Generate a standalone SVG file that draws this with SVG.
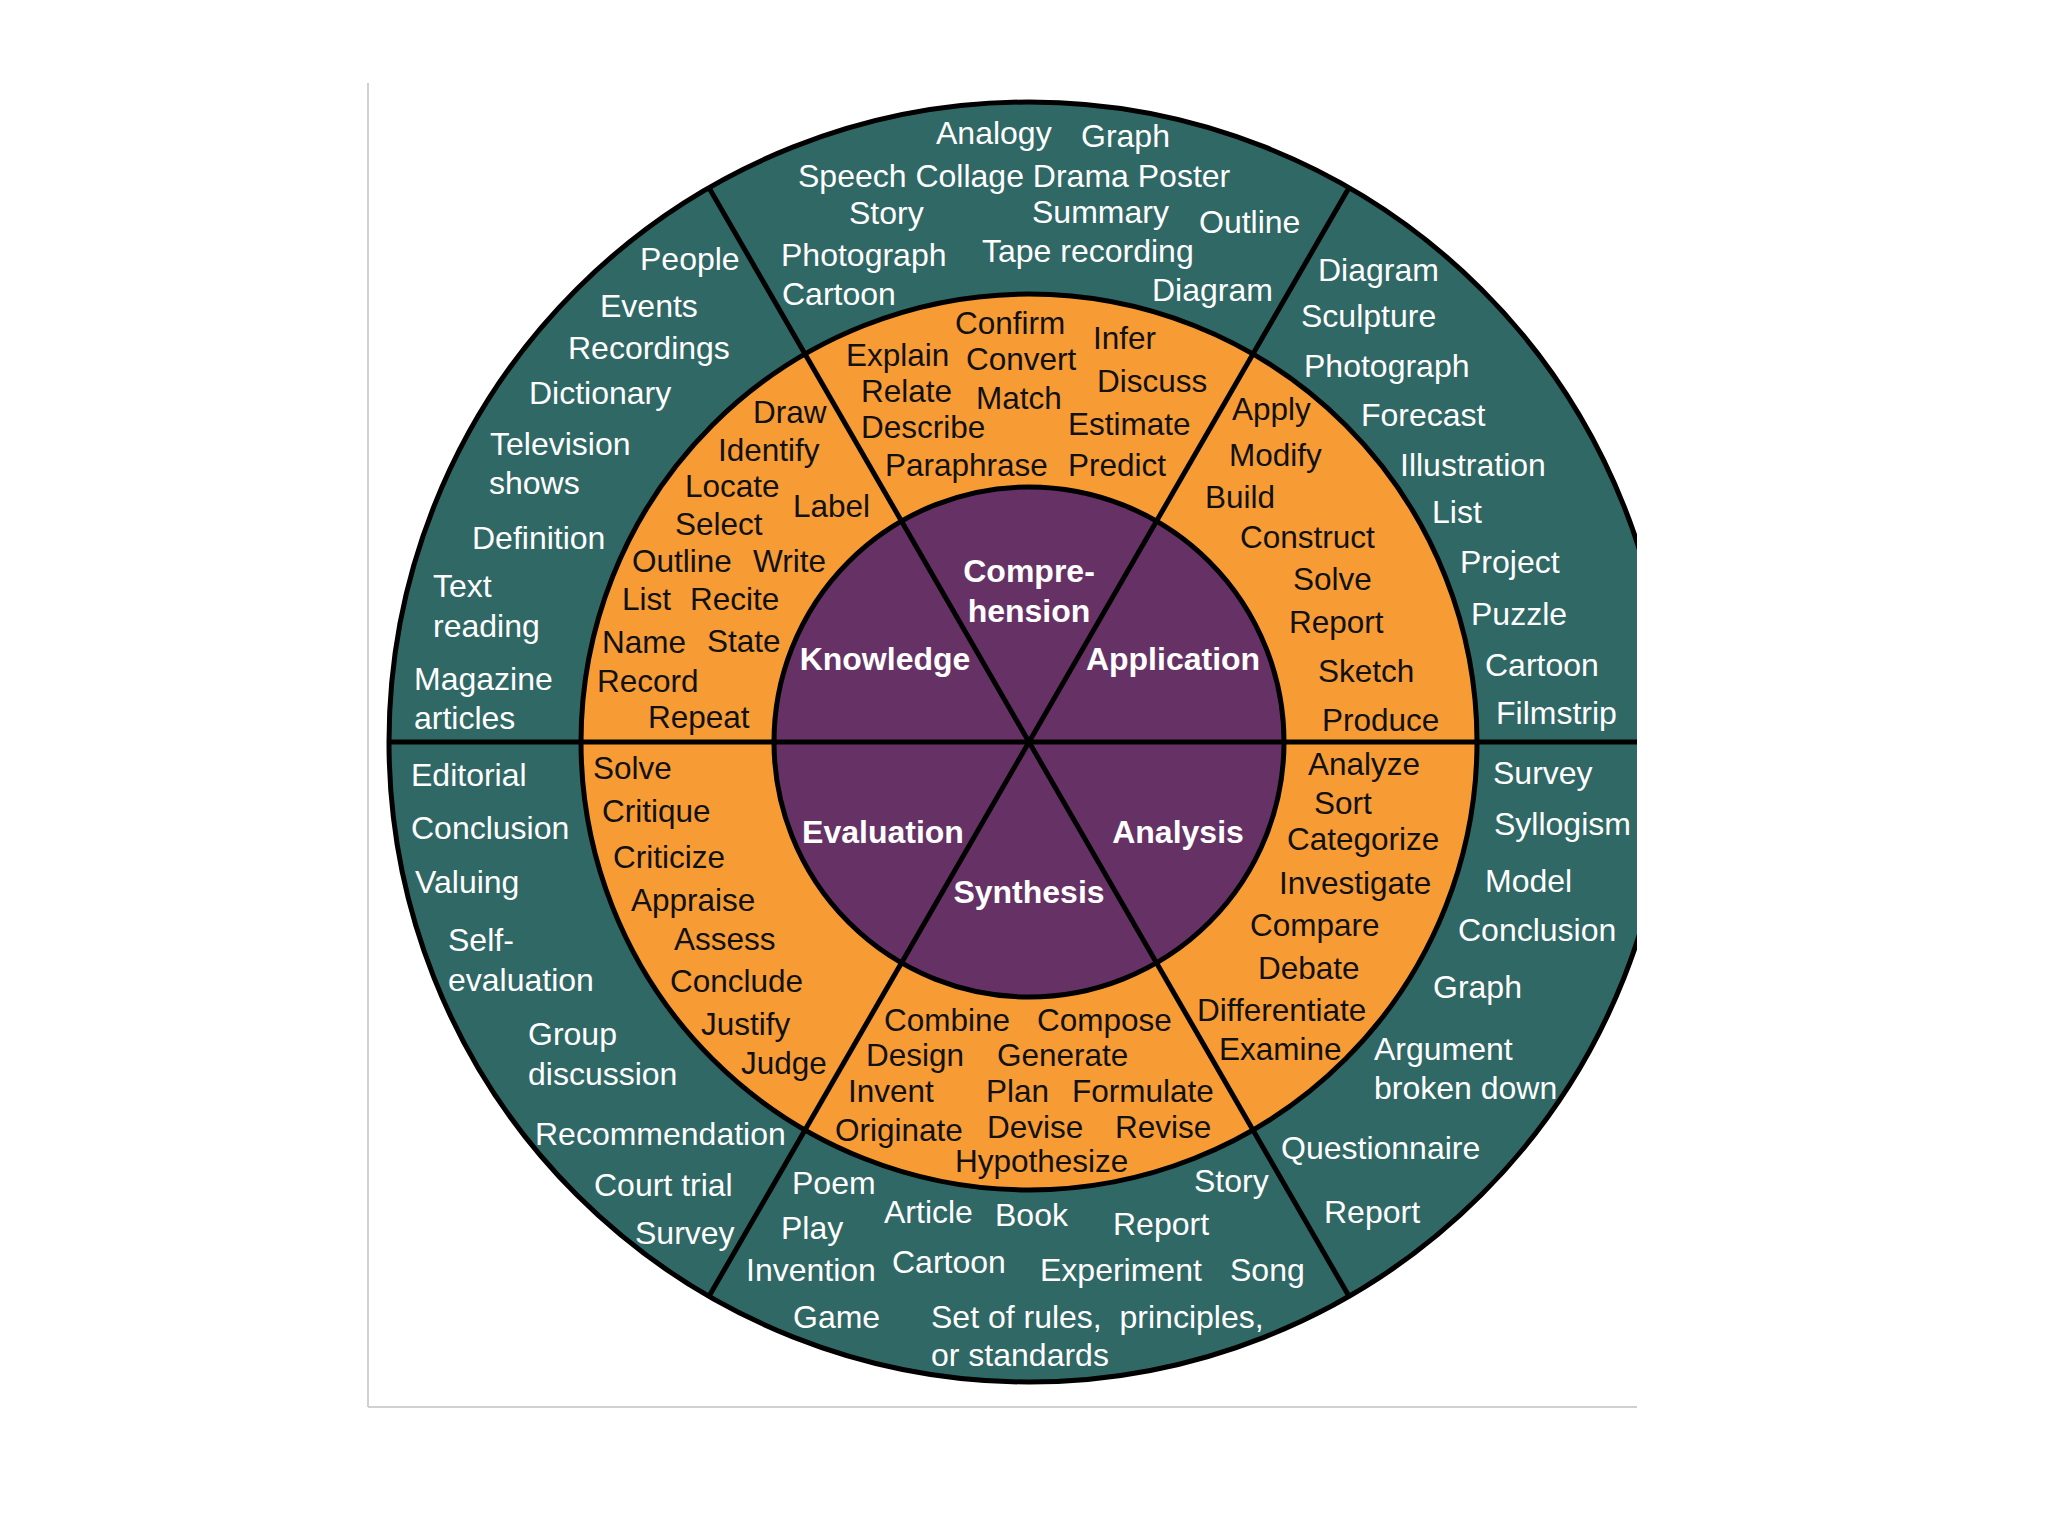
<svg xmlns="http://www.w3.org/2000/svg" width="2048" height="1536" viewBox="0 0 2048 1536">
<defs>
<clipPath id="clip"><rect x="0" y="0" width="1637" height="1536"/></clipPath>
<style>
.ring{stroke:#000;stroke-width:5}
.o{font-family:"Liberation Sans",Arial,sans-serif;font-size:32px;fill:#fff}
.m{font-family:"Liberation Sans",Arial,sans-serif;font-size:31.5px;fill:#111}
.c{font-family:"Liberation Sans",Arial,sans-serif;font-size:32px;font-weight:bold;fill:#fff;text-anchor:middle}
.div{stroke:#000;stroke-width:5;fill:none}
</style>
</defs>
<rect width="2048" height="1536" fill="#fff"/>
<g id="frame" stroke="#d0d0d0" stroke-width="2" fill="none">
<line x1="368" y1="83" x2="368" y2="1407"/>
<line x1="368" y1="1407" x2="1637" y2="1407"/>
</g>
<g clip-path="url(#clip)">
<g id="rings">
<circle class="ring" cx="1029" cy="742" r="640" fill="#306866"/>
<circle class="ring" cx="1029" cy="742" r="448" fill="#f79b34"/>
<circle class="ring" cx="1029" cy="742" r="255" fill="#663266"/>
</g>
<g id="connectors">
<line class="div" x1="389" y1="742" x2="1669" y2="742"/>
<line class="div" x1="709" y1="187.7" x2="1349" y2="1296.3"/>
<line class="div" x1="1349" y1="187.7" x2="709" y2="1296.3"/>
</g>
</g>
<g id="knowledge">
<text class="c" x="885" y="670">Knowledge</text>
<g class="m">
<text x="753" y="423">Draw</text>
<text x="718" y="461">Identify</text>
<text x="685" y="497">Locate</text>
<text x="793" y="517">Label</text>
<text x="675" y="535">Select</text>
<text x="632" y="572">Outline</text>
<text x="753" y="572">Write</text>
<text x="622" y="610">List</text>
<text x="690" y="610">Recite</text>
<text x="602" y="653">Name</text>
<text x="707" y="652">State</text>
<text x="597" y="692">Record</text>
<text x="648" y="728">Repeat</text>
</g>
<g class="o">
<text x="640" y="270">People</text>
<text x="600" y="317">Events</text>
<text x="568" y="359">Recordings</text>
<text x="529" y="404">Dictionary</text>
<text x="490" y="455">Television</text>
<text x="489" y="494">shows</text>
<text x="472" y="549">Definition</text>
<text x="433" y="597">Text</text>
<text x="433" y="637">reading</text>
<text x="414" y="690">Magazine</text>
<text x="414" y="729">articles</text>
</g>
</g>
<g id="comprehension">
<text class="c" x="1029" y="582">Compre-</text>
<text class="c" x="1029" y="622">hension</text>
<g class="m">
<text x="955" y="334">Confirm</text>
<text x="1093" y="349">Infer</text>
<text x="846" y="366">Explain</text>
<text x="966" y="370">Convert</text>
<text x="1097" y="392">Discuss</text>
<text x="861" y="402">Relate</text>
<text x="976" y="409">Match</text>
<text x="861" y="438">Describe</text>
<text x="1068" y="435">Estimate</text>
<text x="885" y="476">Paraphrase</text>
<text x="1068" y="476">Predict</text>
</g>
<g class="o">
<text x="936" y="144">Analogy</text>
<text x="1081" y="147">Graph</text>
<text x="798" y="187">Speech Collage Drama Poster</text>
<text x="849" y="224">Story</text>
<text x="1032" y="223">Summary</text>
<text x="1199" y="233">Outline</text>
<text x="781" y="266">Photograph</text>
<text x="982" y="262">Tape recording</text>
<text x="782" y="305">Cartoon</text>
<text x="1152" y="301">Diagram</text>
</g>
</g>
<g id="application">
<text class="c" x="1173" y="670">Application</text>
<g class="m">
<text x="1232" y="420">Apply</text>
<text x="1229" y="466">Modify</text>
<text x="1205" y="508">Build</text>
<text x="1240" y="548">Construct</text>
<text x="1293" y="590">Solve</text>
<text x="1289" y="633">Report</text>
<text x="1318" y="682">Sketch</text>
<text x="1322" y="731">Produce</text>
</g>
<g class="o">
<text x="1318" y="281">Diagram</text>
<text x="1301" y="327">Sculpture</text>
<text x="1304" y="377">Photograph</text>
<text x="1361" y="426">Forecast</text>
<text x="1400" y="476">Illustration</text>
<text x="1432" y="523">List</text>
<text x="1460" y="573">Project</text>
<text x="1471" y="625">Puzzle</text>
<text x="1485" y="676">Cartoon</text>
<text x="1496" y="724">Filmstrip</text>
</g>
</g>
<g id="analysis">
<text class="c" x="1178" y="843">Analysis</text>
<g class="m">
<text x="1308" y="775">Analyze</text>
<text x="1314" y="814">Sort</text>
<text x="1287" y="850">Categorize</text>
<text x="1279" y="894">Investigate</text>
<text x="1250" y="936">Compare</text>
<text x="1258" y="979">Debate</text>
<text x="1197" y="1021">Differentiate</text>
<text x="1219" y="1060">Examine</text>
</g>
<g class="o">
<text x="1493" y="784">Survey</text>
<text x="1494" y="835">Syllogism</text>
<text x="1485" y="892">Model</text>
<text x="1458" y="941">Conclusion</text>
<text x="1433" y="998">Graph</text>
<text x="1374" y="1060">Argument</text>
<text x="1374" y="1099">broken down</text>
<text x="1281" y="1159">Questionnaire</text>
<text x="1324" y="1223">Report</text>
</g>
</g>
<g id="synthesis">
<text class="c" x="1029" y="903">Synthesis</text>
<g class="m">
<text x="884" y="1031">Combine</text>
<text x="1037" y="1031">Compose</text>
<text x="866" y="1066">Design</text>
<text x="997" y="1066">Generate</text>
<text x="848" y="1102">Invent</text>
<text x="986" y="1102">Plan</text>
<text x="1072" y="1102">Formulate</text>
<text x="835" y="1141">Originate</text>
<text x="987" y="1138">Devise</text>
<text x="1115" y="1138">Revise</text>
<text x="955" y="1172">Hypothesize</text>
</g>
<g class="o">
<text x="792" y="1194">Poem</text>
<text x="1194" y="1192">Story</text>
<text x="781" y="1239">Play</text>
<text x="884" y="1223">Article</text>
<text x="995" y="1226">Book</text>
<text x="1113" y="1235">Report</text>
<text x="746" y="1281">Invention</text>
<text x="892" y="1273">Cartoon</text>
<text x="1040" y="1281">Experiment</text>
<text x="1230" y="1281">Song</text>
<text x="793" y="1328">Game</text>
<text x="931" y="1328" xml:space="preserve" style="white-space:pre">Set of rules,  principles,</text>
<text x="931" y="1366">or standards</text>
</g>
</g>
<g id="evaluation">
<text class="c" x="883" y="843">Evaluation</text>
<g class="m">
<text x="593" y="779">Solve</text>
<text x="602" y="822">Critique</text>
<text x="613" y="868">Criticize</text>
<text x="631" y="911">Appraise</text>
<text x="674" y="950">Assess</text>
<text x="670" y="992">Conclude</text>
<text x="701" y="1035">Justify</text>
<text x="741" y="1074">Judge</text>
</g>
<g class="o">
<text x="411" y="786">Editorial</text>
<text x="411" y="839">Conclusion</text>
<text x="415" y="893">Valuing</text>
<text x="448" y="951">Self-</text>
<text x="448" y="991">evaluation</text>
<text x="528" y="1045">Group</text>
<text x="528" y="1085">discussion</text>
<text x="535" y="1145">Recommendation</text>
<text x="594" y="1196">Court trial</text>
<text x="635" y="1244">Survey</text>
</g>
</g>
</svg>
